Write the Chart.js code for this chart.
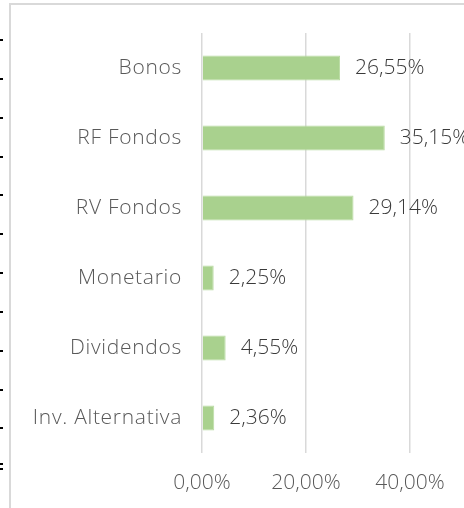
<!DOCTYPE html>
<html><head><meta charset="utf-8">
<script src="https://cdn.jsdelivr.net/npm/chart.js@4.4.0/dist/chart.umd.min.js"></script>
<style>
html,body{margin:0;padding:0;background:#fff;width:464px;height:508px;overflow:hidden;}
#frame{position:absolute;left:9px;top:3px;width:470px;height:520px;border-left:2px solid #D9D9D9;border-top:2px solid #D9D9D9;box-sizing:border-box;}
#wrap{position:absolute;left:0;top:0;width:464px;height:508px;}
.mk{position:absolute;left:0;width:3px;height:2px;background:#000;}
</style></head>
<body>
<div id="frame"></div>
<div id="wrap"><canvas id="c" width="464" height="508"></canvas></div>
<script>
const categories = ["Bonos","RF Fondos","RV Fondos","Monetario","Dividendos","Inv. Alternativa"];
const values = [26.55, 35.15, 29.14, 2.25, 4.55, 2.36];
const tickValues = [0, 20, 40];

// decorative marks on the left edge
[39,78,117,156,194,233,272,311,350,389,427,463,468].forEach(y=>{
  const d=document.createElement('div');d.className='mk';d.style.top=y+'px';document.body.appendChild(d);
});

const FONT = "'Open Sans', sans-serif";
const fmt = v => v.toFixed(2).replace('.', ',') + '%';

const valueLabels = {
  id:'valueLabels',
  afterLayout(chart){
    const s = chart.scales.y;
    if (!s._wrapped) {
      const orig = s.drawLabels;
      s.drawLabels = function(a){
        const ctx = this.ctx; ctx.save();
        ctx.letterSpacing = '0.7px';
        orig.call(this, a);
        ctx.restore();
      };
      s._wrapped = true;
    }
  },
  afterDatasetsDraw(chart){
    const ctx = chart.ctx;
    const meta = chart.getDatasetMeta(0);
    ctx.save();
    ctx.font = "300 21px " + FONT;
    ctx.fillStyle = '#3A3A3A';
    ctx.textAlign = 'left';
    ctx.textBaseline = 'middle';
    meta.data.forEach((bar,i)=>{
      ctx.fillText(fmt(values[i]), bar.x + 15, bar.y);
    });
    ctx.restore();
  }
};

new Chart(document.getElementById('c'), {
  type:'bar',
  data:{labels:categories, datasets:[{data:values, backgroundColor:'#A9D18E', borderColor:'#B9DBA2', borderWidth:1, barPercentage:0.72, categoryPercentage:0.5}]},
  options:{
    indexAxis:'y', responsive:false, animation:false,
    layout:{padding:{left:0,right:54,top:33,bottom:0}},
    plugins:{legend:{display:false}, tooltip:{enabled:false}},
    scales:{
      x:{min:0,max:40,
        afterBuildTicks(s){ s.ticks = tickValues.map(v=>({value:v})); },
        afterFit(s){ s.height = 55; },
        grid:{color:'#D9D9D9', lineWidth:1.5, drawTicks:false},
        border:{display:false},
        ticks:{padding:17, color:'#595959', font:{family:FONT,size:21,weight:300}, callback:v=>fmt(v)}
      },
      y:{
        afterFit(s){ s.width = 202; },
        grid:{display:false, drawTicks:false},
        border:{display:false},
        ticks:{padding:20, color:'#595959', font:{family:FONT,size:21,weight:300}}
      }
    }
  },
  plugins:[valueLabels]
});
</script>
</body></html>
